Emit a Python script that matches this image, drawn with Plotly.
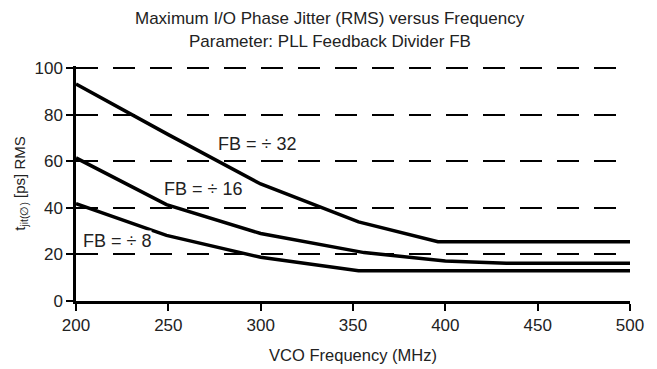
import plotly.graph_objects as go

# VCO frequency (MHz) breakpoints and RMS jitter (ps) per feedback divider
freq_fb32 = [200, 250, 300, 353, 396, 500]
jit_fb32 = [93.3, 71.5, 50.3, 34.0, 25.5, 25.5]

freq_fb16 = [200, 249, 300, 356, 400, 433, 500]
jit_fb16 = [61.5, 41.4, 29.0, 20.8, 17.2, 16.2, 16.2]

freq_fb8 = [200, 249, 300, 353, 500]
jit_fb8 = [41.8, 28.2, 18.8, 13.0, 13.0]

curve_labels = ["FB = ÷ 32", "FB = ÷ 16", "FB = ÷ 8"]
label_x = [298, 269, 222]
label_y = [67.5, 48.3, 25.8]

x_ticks = [200, 250, 300, 350, 400, 450, 500]
y_ticks = [0, 20, 40, 60, 80, 100]

FONT = "Liberation Sans, Arial, sans-serif"

fig = go.Figure()
for fx, fy in [(freq_fb32, jit_fb32), (freq_fb16, jit_fb16), (freq_fb8, jit_fb8)]:
    fig.add_trace(go.Scatter(x=fx, y=fy, mode="lines",
                             line=dict(color="black", width=3.5),
                             showlegend=False, hoverinfo="skip"))

for txt, lx, ly in zip(curve_labels, label_x, label_y):
    fig.add_annotation(x=lx, y=ly, text=txt, showarrow=False,
                       font=dict(family=FONT, size=18, color="#222"),
                       bgcolor="white", borderpad=0)

# two-line chart heading
fig.add_annotation(xref="paper", yref="paper", x=0.459, y=1.0, yshift=48,
                   xanchor="center", yanchor="middle",
                   text="Maximum I/O Phase Jitter (RMS) versus Frequency", showarrow=False,
                   font=dict(family=FONT, size=17, color="#222"))
fig.add_annotation(xref="paper", yref="paper", x=0.459, y=1.0, yshift=25,
                   xanchor="center", yanchor="middle",
                   text="Parameter: PLL Feedback Divider FB", showarrow=False,
                   font=dict(family=FONT, size=17, color="#222"))

fig.update_layout(
    width=657, height=369,
    margin=dict(l=76, r=27, t=66, b=68),
    paper_bgcolor="white", plot_bgcolor="white",
    font=dict(family=FONT, size=16, color="#222"),
)
fig.update_xaxes(range=[200, 500], tickvals=x_ticks, showgrid=False,
                 showline=True, linecolor="black", linewidth=2.5,
                 ticks="outside", ticklen=7, tickwidth=2, tickcolor="black",
                 tickfont=dict(size=17), zeroline=False, automargin=False,
                 title=dict(text="VCO Frequency (MHz)", font=dict(size=16.5), standoff=16))
fig.update_yaxes(range=[0, 101], tickvals=y_ticks, showgrid=True,
                 gridcolor="black", gridwidth=2, griddash="22px,15px",
                 showline=True, linecolor="black", linewidth=2.5,
                 ticks="outside", ticklen=7, tickwidth=2, tickcolor="black",
                 tickfont=dict(size=17), zeroline=False,
                 title=dict(text="t<sub>jit(∅)</sub> [ps] RMS", font=dict(size=15), standoff=6))

fig.write_html("out.html")
